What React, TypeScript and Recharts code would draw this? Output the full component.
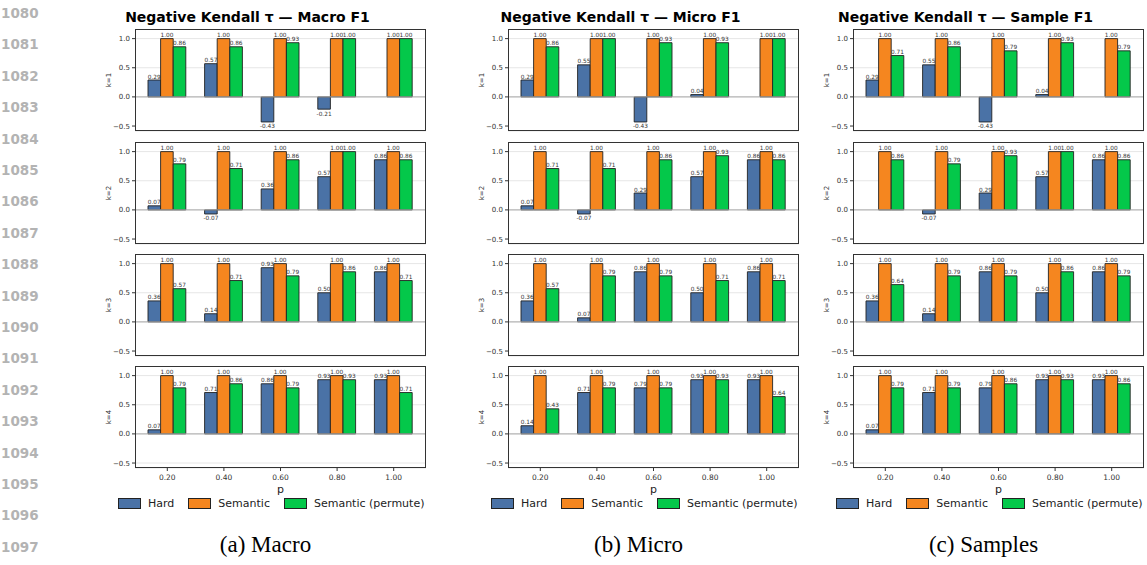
import React from 'react';
import {
  BarChart,
  Bar,
  XAxis,
  YAxis,
  CartesianGrid,
  ReferenceLine,
  LabelList,
} from 'recharts';

const pValues = ['0.20', '0.40', '0.60', '0.80', '1.00'];
const kLabels = ['k=1', 'k=2', 'k=3', 'k=4'];
const yTicks = [-0.5, 0, 0.5, 1.0];

// Hard / Semantic / Semantic (permute), one row per k
const macroHard = [
  [0.29, 0.57, -0.43, -0.21, null],
  [0.07, -0.07, 0.36, 0.57, 0.86],
  [0.36, 0.14, 0.93, 0.5, 0.86],
  [0.07, 0.71, 0.86, 0.93, 0.93],
];
const macroSemantic = [
  [1, 1, 1, 1, 1],
  [1, 1, 1, 1, 1],
  [1, 1, 1, 1, 1],
  [1, 1, 1, 1, 1],
];
const macroPermute = [
  [0.86, 0.86, 0.93, 1.0, 1.0],
  [0.79, 0.71, 0.86, 1.0, 0.86],
  [0.57, 0.71, 0.79, 0.86, 0.71],
  [0.79, 0.86, 0.79, 0.93, 0.71],
];

const microHard = [
  [0.29, 0.55, -0.43, 0.04, null],
  [0.07, -0.07, 0.29, 0.57, 0.86],
  [0.36, 0.07, 0.86, 0.5, 0.86],
  [0.14, 0.71, 0.79, 0.93, 0.93],
];
const microSemantic = [
  [1, 1, 1, 1, 1],
  [1, 1, 1, 1, 1],
  [1, 1, 1, 1, 1],
  [1, 1, 1, 1, 1],
];
const microPermute = [
  [0.86, 1.0, 0.93, 0.93, 1.0],
  [0.71, 0.71, 0.86, 0.93, 0.86],
  [0.57, 0.79, 0.79, 0.71, 0.71],
  [0.43, 0.79, 0.79, 0.93, 0.64],
];

const sampleHard = [
  [0.29, 0.55, -0.43, 0.04, null],
  [0.0, -0.07, 0.29, 0.57, 0.86],
  [0.36, 0.14, 0.86, 0.5, 0.86],
  [0.07, 0.71, 0.79, 0.93, 0.93],
];
const sampleSemantic = [
  [1, 1, 1, 1, 1],
  [1, 1, 1, 1, 1],
  [1, 1, 1, 1, 1],
  [1, 1, 1, 1, 1],
];
const samplePermute = [
  [0.71, 0.86, 0.79, 0.93, 0.79],
  [0.86, 0.79, 0.93, 1.0, 0.86],
  [0.64, 0.79, 0.79, 0.86, 0.79],
  [0.79, 0.79, 0.86, 0.93, 0.86],
];

const seriesNames = ['Hard', 'Semantic', 'Semantic (permute)'];
const seriesColors = ['#4a72a6', '#f5861f', '#04c84a'];

const columns = [
  { title: 'Negative Kendall τ — Macro F1', caption: '(a) Macro', hard: macroHard, sem: macroSemantic, perm: macroPermute },
  { title: 'Negative Kendall τ — Micro F1', caption: '(b) Micro', hard: microHard, sem: microSemantic, perm: microPermute },
  { title: 'Negative Kendall τ — Sample F1', caption: '(c) Samples', hard: sampleHard, sem: sampleSemantic, perm: samplePermute },
];

const lineNumbers = [
  1080, 1081, 1082, 1083, 1084, 1085, 1086, 1087, 1088, 1089, 1090, 1091, 1092, 1093, 1094, 1095,
  1096, 1097,
];

// layout
const plotLefts = [135, 508, 853];
const plotTops = [29, 142, 254, 366];
const plotW = 291;
const plotH = 102;
const yAxisW = 35;
const font = '"DejaVu Sans", sans-serif';

const fmtTick = (v: number) => (v < 0 ? '\u2212' + Math.abs(v).toFixed(1) : v.toFixed(1));

const renderValue = (props: any) => {
  const { x, y, width, height, value } = props;
  if (value == null) return null;
  const top = Math.min(y, y + height);
  const bottom = Math.max(y, y + height);
  return (
    <text
      x={x + width / 2}
      y={value >= 0 ? top - 1.5 : bottom + 6.5}
      textAnchor="middle"
      fontSize={5.8}
      fontFamily={font}
      fill="#333"
    >
      {Number(value).toFixed(2)}
    </text>
  );
};

function Panel({ col, row }: { col: number; row: number }) {
  const c = columns[col];
  const data = pValues.map((p, i) => ({
    p,
    hard: c.hard[row][i],
    sem: c.sem[row][i],
    perm: c.perm[row][i],
  }));
  const isBottom = row === 3;
  const xH = isBottom ? 22 : 4;
  const keys = ['hard', 'sem', 'perm'];

  return (
    <>
      <div style={{ position: 'absolute', left: plotLefts[col] - yAxisW, top: plotTops[row] }}>
        <BarChart
          width={yAxisW + plotW}
          height={plotH + xH}
          data={data}
          margin={{ top: 0, right: 0, bottom: 0, left: 0 }}
          barGap={0}
          barSize={12.6}
        >
          <CartesianGrid vertical={false} stroke="#e6e6e6" strokeWidth={1} />
          <XAxis
            dataKey="p"
            height={xH}
            padding={{ left: 4, right: 4 }}
            axisLine={false}
            tickLine={{ stroke: '#333' }}
            tickSize={3}
            tickMargin={4}
            tick={isBottom ? { fontSize: 7.5, fill: '#333', fontFamily: font } : false}
          />
          <YAxis
            width={yAxisW}
            domain={[-0.585, 1.165]}
            allowDataOverflow
            ticks={yTicks}
            tickFormatter={fmtTick}
            axisLine={false}
            tickLine={{ stroke: '#333' }}
            tickSize={3}
            tickMargin={2}
            tick={{ fontSize: 7, fill: '#333', fontFamily: font }}
            label={{
              value: kLabels[row],
              angle: -90,
              position: 'insideLeft',
              offset: 9,
              fill: '#333',
              fontSize: 7,
              fontFamily: font,
              style: { textAnchor: 'middle', fill: '#333' },
            }}
          />
          <ReferenceLine y={0} stroke="#aaaaaa" strokeWidth={1} />
          {keys.map((k, i) => (
            <Bar
              key={k}
              dataKey={k}
              name={seriesNames[i]}
              fill={seriesColors[i]}
              stroke="#222"
              strokeWidth={0.9}
              isAnimationActive={false}
            >
              <LabelList dataKey={k} content={renderValue} />
            </Bar>
          ))}
        </BarChart>
      </div>
      <div
        style={{
          position: 'absolute',
          left: plotLefts[col],
          top: plotTops[row],
          width: plotW,
          height: plotH,
          border: '1px solid #333',
          boxSizing: 'border-box',
          pointerEvents: 'none',
        }}
      />
    </>
  );
}

export default function App() {
  return (
    <div
      style={{
        position: 'absolute',
        left: 0,
        top: 0,
        width: 1147,
        height: 565,
        background: '#fff',
        overflow: 'hidden',
      }}
    >
      {lineNumbers.map((n, i) => (
        <div
          key={n}
          style={{
            position: 'absolute',
            left: 1,
            top: 13 + i * 31.4 - 9,
            fontFamily: font,
            fontWeight: 'bold',
            fontSize: 13.5,
            lineHeight: '18px',
            color: '#b3b3b3',
          }}
        >
          {n}
        </div>
      ))}

      {columns.map((c, ci) => (
        <React.Fragment key={c.title}>
          <div
            style={{
              position: 'absolute',
              left: plotLefts[ci] - 33 - 60,
              width: plotW + 120,
              top: 9,
              textAlign: 'center',
              fontFamily: font,
              fontWeight: 'bold',
              fontSize: 14,
              lineHeight: '16px',
              color: '#000',
            }}
          >
            {c.title}
          </div>
          {[0, 1, 2, 3].map((r) => (
            <Panel key={r} col={ci} row={r} />
          ))}
          <div
            style={{
              position: 'absolute',
              left: plotLefts[ci],
              width: plotW,
              top: 483,
              textAlign: 'center',
              fontFamily: font,
              fontSize: 11,
              lineHeight: '13px',
              color: '#222',
            }}
          >
            p
          </div>
          <div
            style={{
              position: 'absolute',
              left: plotLefts[ci] - 17,
              top: 497,
              display: 'flex',
              alignItems: 'center',
              gap: 14,
              fontFamily: font,
              fontSize: 11,
              color: '#222',
            }}
          >
            {seriesNames.map((s, si) => (
              <div key={s} style={{ display: 'flex', alignItems: 'center', gap: 7 }}>
                <div
                  style={{
                    width: 23,
                    height: 11,
                    background: seriesColors[si],
                    border: '1px solid #222',
                    boxSizing: 'border-box',
                  }}
                />
                <span style={{ lineHeight: '13px' }}>{s}</span>
              </div>
            ))}
          </div>
          <div
            style={{
              position: 'absolute',
              left: plotLefts[ci] - 15 - 100,
              width: plotW + 200,
              top: 531,
              textAlign: 'center',
              fontFamily: '"Liberation Serif", serif',
              fontSize: 23,
              lineHeight: '27px',
              color: '#000',
            }}
          >
            {c.caption}
          </div>
        </React.Fragment>
      ))}
    </div>
  );
}
